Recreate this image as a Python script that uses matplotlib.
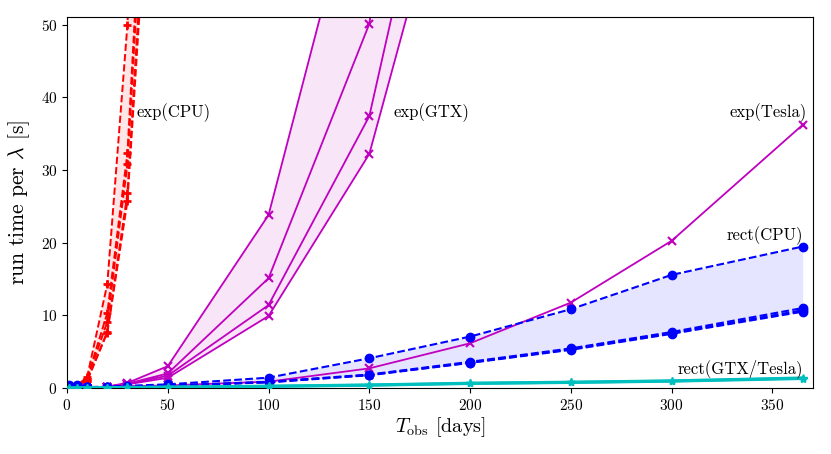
import matplotlib
matplotlib.use("Agg")
import matplotlib.pyplot as plt
import numpy as np

plt.rcParams['font.family'] = ['cmr10', 'DejaVu Serif']
plt.rcParams['mathtext.fontset'] = 'cm'
plt.rcParams['axes.formatter.use_mathtext'] = True
plt.rcParams['axes.unicode_minus'] = False

# ---- data ----
T_exp_cpu = [1, 5, 10, 20, 30, 50]
exp_cpu = [
    [0.10, 0.35, 1.5, 14.3, 50.0, 200.0],
    [0.10, 0.30, 1.3, 10.3, 32.3, 135.0],
    [0.10, 0.30, 1.2, 9.1, 30.8, 128.0],
    [0.08, 0.25, 1.0, 7.75, 26.8, 118.0],
    [0.08, 0.25, 1.0, 7.6, 25.7, 112.0],
]

T_exp_gtx = [1, 5, 10, 20, 30, 50, 100, 150, 200]
exp_gtx = [
    [0.01, 0.03, 0.06, 0.20, 0.70, 3.0, 23.8, 77.0, 150.0],
    [0.01, 0.03, 0.05, 0.18, 0.60, 2.0, 15.1, 50.1, 140.0],
    [0.01, 0.02, 0.05, 0.16, 0.55, 1.7, 11.4, 37.4, 99.0],
    [0.01, 0.02, 0.04, 0.15, 0.50, 1.4, 9.9, 32.2, 83.0],
]

T_full = [1, 5, 10, 20, 30, 50, 100, 150, 200, 250, 300, 365]
exp_tesla = [0.01, 0.02, 0.04, 0.10, 0.25, 0.35, 0.87, 2.7, 6.15, 11.75, 20.25, 36.2]

rect_cpu = [
    [0.40, 0.40, 0.12, 0.20, 0.30, 0.50, 1.42, 4.09, 7.07, 10.84, 15.56, 19.46],
    [0.30, 0.30, 0.08, 0.12, 0.18, 0.30, 0.85, 1.85, 3.60, 5.45, 7.70, 11.0],
    [0.30, 0.30, 0.08, 0.12, 0.18, 0.30, 0.80, 1.80, 3.50, 5.33, 7.55, 10.7],
    [0.30, 0.30, 0.08, 0.12, 0.18, 0.30, 0.78, 1.75, 3.45, 5.25, 7.45, 10.5],
]

rect_gpu = [
    [0.01, 0.02, 0.03, 0.05, 0.07, 0.12, 0.25, 0.42, 0.66, 0.80, 0.98, 1.38],
    [0.01, 0.02, 0.03, 0.05, 0.07, 0.10, 0.22, 0.38, 0.62, 0.76, 0.94, 1.30],
]

labels = ['exp(CPU)', 'exp(GTX)', 'exp(Tesla)', 'rect(CPU)', 'rect(GTX/Tesla)']

# ---- figure ----
fig = plt.figure(figsize=(8.31, 4.54), dpi=100)
ax = fig.add_axes([0.0806, 0.1454, 0.8974, 0.8165])


def group(ax, x, ys, color, ls, marker, ms, mew, lw, fill=True, z=2):
    ys = np.array(ys)
    if fill:
        ax.fill_between(x, ys.min(axis=0), ys.max(axis=0), color=color,
                        alpha=0.1, lw=0, zorder=z - 1)
    for y in ys:
        ax.plot(x, y, color=color, ls=ls, marker=marker, ms=ms, mew=mew,
                lw=lw, zorder=z)


group(ax, T_exp_cpu, exp_cpu, 'r', '--', '+', 6, 2, 1.4)
group(ax, T_exp_gtx, exp_gtx, 'm', '-', 'x', 6, 1.5, 1.3)
group(ax, T_full, [exp_tesla], 'm', '-', 'x', 6, 1.5, 1.3, fill=False)
group(ax, T_full, rect_cpu, 'b', '--', 'o', 6, 1, 1.5)
group(ax, T_full, rect_gpu, 'c', '-', '*', 6, 1, 2.2, z=3)

fs = 12
ax.text(34.5, 37.9, labels[0], fontsize=fs, ha='left', va='center')
ax.text(162, 37.9, labels[1], fontsize=fs, ha='left', va='center')
ax.text(367, 37.9, labels[2], fontsize=fs, ha='right', va='center')
ax.text(365, 20.9, labels[3], fontsize=fs, ha='right', va='center')
ax.text(365, 2.7, labels[4], fontsize=fs, ha='right', va='center')

ax.set_xlim(0, 370)
ax.set_ylim(0, 51)
ax.set_xticks([0, 50, 100, 150, 200, 250, 300, 350])
ax.set_yticks([0, 10, 20, 30, 40, 50])
ax.tick_params(labelsize=11)
ax.set_xlabel(r'$T_{\rm obs}$ [days]', fontsize=14.5, labelpad=2)
ax.set_ylabel(r'run time per $\lambda$ [s]', fontsize=15.5, labelpad=6)

fig.savefig('out.png', dpi=100)
